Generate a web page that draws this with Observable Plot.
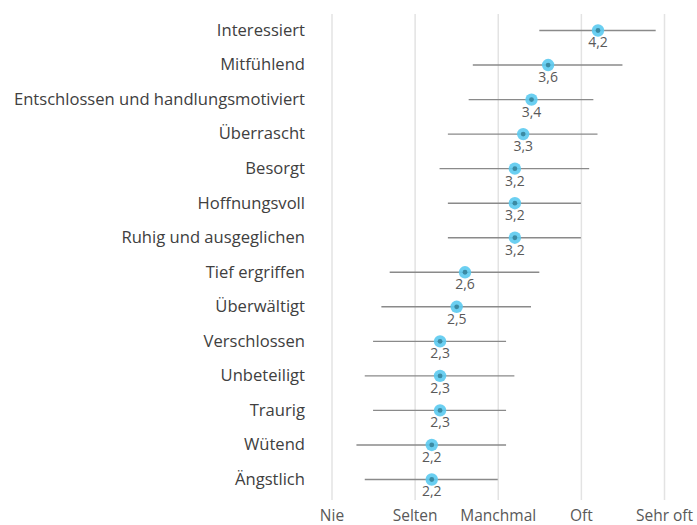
<!DOCTYPE html>
<html>
<head>
<meta charset="utf-8">
<script src="https://cdn.jsdelivr.net/npm/d3@7"></script>
<script src="https://cdn.jsdelivr.net/npm/@observablehq/plot@0.6"></script>
<style>
  html, body { margin: 0; padding: 0; background: #fff; }
  #chart { width: 697px; height: 525px; }
</style>
</head>
<body>
<div id="chart"></div>
<script>
const categories = ["Interessiert", "Mitfühlend", "Entschlossen und handlungsmotiviert", "Überrascht", "Besorgt", "Hoffnungsvoll", "Ruhig und ausgeglichen", "Tief ergriffen", "Überwältigt", "Verschlossen", "Unbeteiligt", "Traurig", "Wütend", "Ängstlich"];
const means = [4.2, 3.6, 3.4, 3.3, 3.2, 3.2, 3.2, 2.6, 2.5, 2.3, 2.3, 2.3, 2.2, 2.2];
const lower = [3.5, 2.7, 2.65, 2.4, 2.3, 2.4, 2.4, 1.7, 1.6, 1.5, 1.4, 1.5, 1.3, 1.4];
const upper = [4.9, 4.5, 4.15, 4.2, 4.1, 4.0, 4.0, 3.5, 3.4, 3.1, 3.2, 3.1, 3.1, 3.0];
const tickValues = [1, 2, 3, 4, 5];
const tickLabels = ["Nie", "Selten", "Manchmal", "Oft", "Sehr oft"];

const data = categories.map((c, i) => ({cat: c, mean: means[i], lo: lower[i], hi: upper[i]}));
const font = "'Open Sans', sans-serif";

const chart = Plot.plot({
  width: 697,
  height: 525,
  marginLeft: 331.5,
  marginRight: 33,
  marginTop: 14,
  marginBottom: 25,
  style: {fontFamily: font, background: "#fff"},
  x: {domain: [1, 5]},
  y: {domain: categories, insetTop: 16, insetBottom: 21, padding: 0, round: false, axis: null},
  marks: [
    Plot.ruleX(tickValues, {stroke: "#e3e3e3", strokeWidth: 1.5}),
    Plot.axisX({ticks: tickValues, tickSize: 0, tickPadding: 9, fontSize: 15.5, fill: "#595959",
      tickFormat: d => tickLabels[tickValues.indexOf(d)]}),
    Plot.axisY({anchor: "left", tickSize: 0, tickPadding: 27, fontSize: 16.6, fill: "#404040", label: null}),
    Plot.ruleY(data, {y: "cat", x1: "lo", x2: "hi", stroke: "#8a8a8a", strokeWidth: 1.4}),
    Plot.dot(data, {x: "mean", y: "cat", r: 6.2, fill: "#5bcaf0", fillOpacity: 0.9, stroke: "none"}),
    Plot.dot(data, {x: "mean", y: "cat", r: 2.4, fill: "#3b8aa3", stroke: "none"}),
    Plot.text(data, {x: "mean", y: "cat", text: d => d.mean.toFixed(1).replace(".", ","), dy: 12.5, fontSize: 14, fill: "#595959"})
  ]
});
document.getElementById("chart").appendChild(chart);
</script>
</body>
</html>
